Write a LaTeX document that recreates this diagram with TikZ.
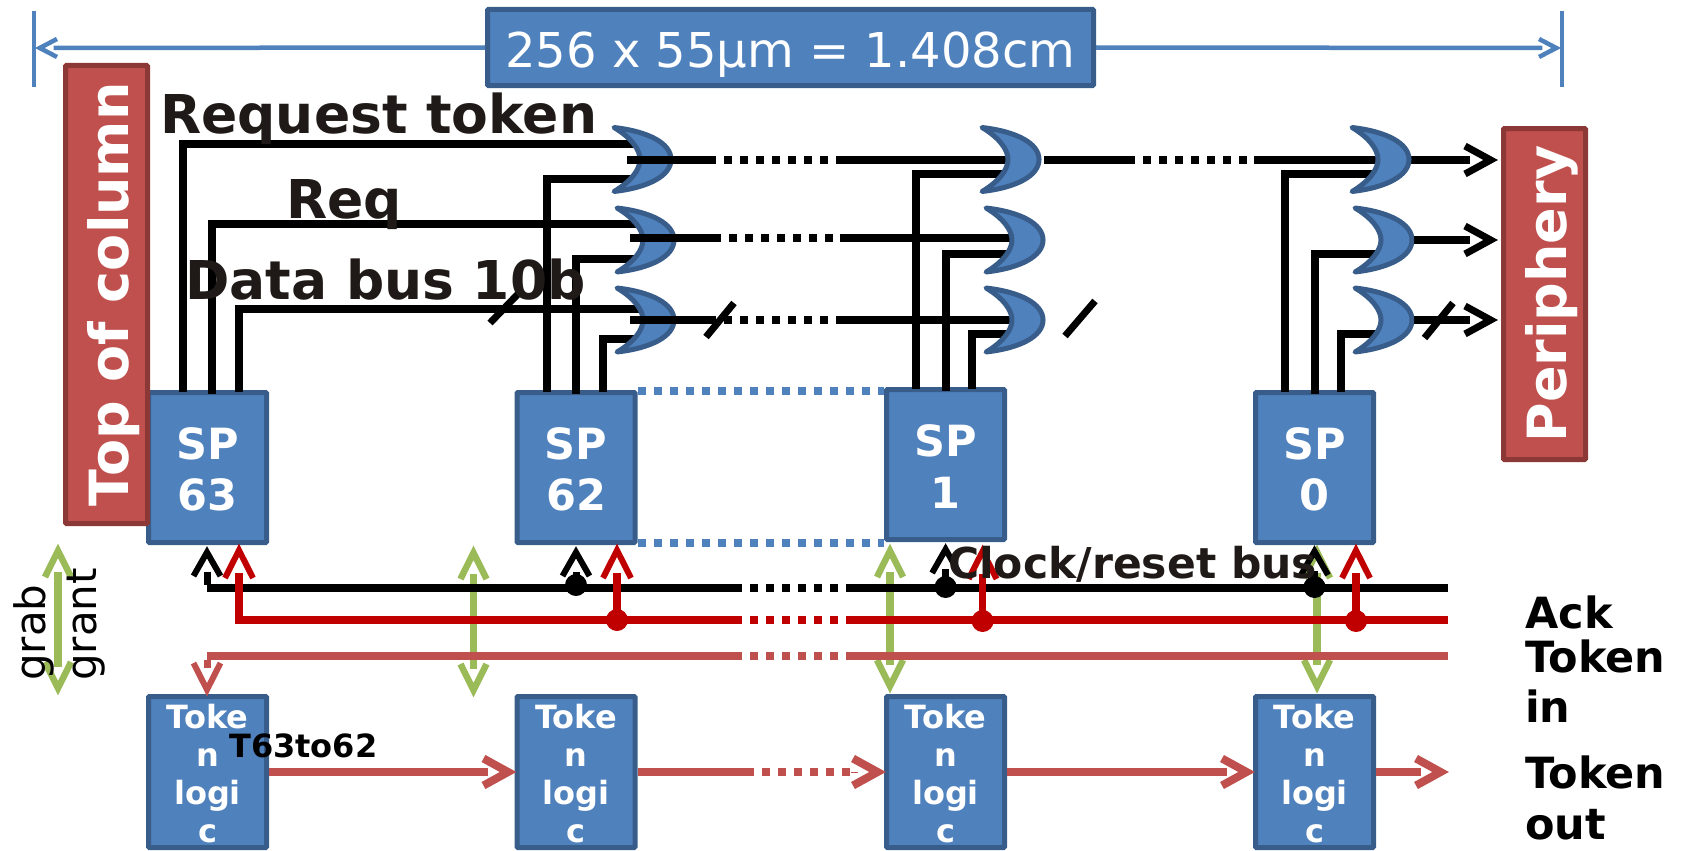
\documentclass[tikz,border=0pt]{standalone}
\usepackage{fontspec}
\setmainfont{DejaVu Sans}
\usetikzlibrary{arrows.meta}
\definecolor{bluef}{HTML}{4F81BD}
\definecolor{blued}{HTML}{385D8A}
\definecolor{redf}{HTML}{C0504D}
\definecolor{redd}{HTML}{8C3836}
\definecolor{wirered}{HTML}{C00000}
\definecolor{greenw}{HTML}{9BBB59}
\definecolor{inkt}{HTML}{1F1A17}
\pgfdeclarearrow{
  name=Chev,
  parameters={\the\pgfarrowlength,\the\pgfarrowwidth,\the\pgfarrowlinewidth},
  defaults={length=33pt,width=33pt,line width=5pt},
  setup code={
    \pgfarrowssettipend{0pt}
    \pgfarrowssetlineend{-0.85\pgfarrowlength}
    \pgfarrowssetvisualbackend{-\pgfarrowlength}
    \pgfarrowssetbackend{-\pgfarrowlength}
    \pgfarrowssavethe\pgfarrowlength
    \pgfarrowssavethe\pgfarrowwidth
    \pgfarrowssavethe\pgfarrowlinewidth
  },
  drawing code={
    \pgfsetdash{}{+0pt}
    \pgfsetbuttcap
    \pgfsetmiterjoin
    \pgfsetmiterlimit{20}
    \pgfsetlinewidth{\pgfarrowlinewidth}
    \pgfpathmoveto{\pgfqpoint{-\pgfarrowlength}{0.5\pgfarrowwidth}}
    \pgfpathlineto{\pgfqpoint{-1.05\pgfarrowlinewidth}{0pt}}
    \pgfpathlineto{\pgfqpoint{-\pgfarrowlength}{-0.5\pgfarrowwidth}}
    \pgfusepathqstroke
  }
}
\tikzset{
  boxbase/.style={rectangle,fill=bluef,draw=blued,line width=5pt,inner sep=0pt,text=white,align=center,rounded corners=1pt},
  spbox/.style={boxbase,minimum width=118pt,minimum height=150pt},
  tokbox/.style={boxbase,minimum width=118pt,minimum height=151pt},
  sptext/.style={inner sep=0pt,text=white,align=center,yshift=-2pt,font=\fontsize{43}{51.5}\selectfont\bfseries},
  toktext/.style={inner sep=0pt,text=white,align=center,yshift=-1.5pt,font=\fontsize{32}{38}\selectfont\bfseries},
  redbox/.style={rectangle,fill=redf,draw=redd,line width=5pt,inner sep=0pt,text=white,rounded corners=1pt,rotate=90,text height=44pt,text depth=0pt,font=\fontsize{54}{60}\selectfont\bfseries},
  toplabel/.style={boxbase,minimum width=606pt,minimum height=76pt,text height=39pt,text depth=0pt,font=\fontsize{48}{56}\selectfont},
  lab/.style={anchor=base west,inner sep=0pt,font=\fontsize{53.5}{60}\selectfont\bfseries,text=inkt},
  sidelab/.style={anchor=base west,inner sep=0pt,font=\fontsize{43}{48}\selectfont\bfseries,text=black},
  rotlab/.style={anchor=base west,inner sep=0pt,rotate=90,font=\fontsize{42}{48}\selectfont,text=black},
  gatest/.style={fill=bluef,draw=blued,line width=5pt,line join=round},
  wire/.style={draw=black,line width=8pt},
  busk/.style={draw=black,line width=8.5pt},
  busr/.style={draw=wirered,line width=8.5pt},
  bust/.style={draw=redf,line width=8.5pt},
  dotted8/.style={dash pattern=on 8pt off 8pt,dash phase=8pt},
  dotted0/.style={dash pattern=on 8pt off 8pt},
  dimline/.style={draw=bluef,line width=4.5pt},
  dimarrow/.style={dimline,-{Chev[length=22pt,width=18pt,line width=4.5pt]}},
  slash/.style={draw=black,line width=7pt},
  outarrow/.style={draw=black,line width=8pt,-{Chev[length=33pt,width=28pt,line width=7pt]}},
  upk/.style={draw=black,line width=7pt,-{Chev[length=30pt,width=27pt,line width=6pt]}},
  upr/.style={draw=wirered,line width=7.5pt,-{Chev[length=34pt,width=28pt,line width=6pt]}},
  tokarrow/.style={draw=redf,line width=8.5pt,-{Chev[length=33pt,width=27pt,line width=8pt]}},
  tokend/.style={draw=redf,line width=0.1pt,-{Chev[length=33pt,width=27pt,line width=8pt]}},
  tokline/.style={draw=redf,line width=8.5pt},
  downt/.style={draw=redf,line width=7pt,-{Chev[length=33pt,width=27pt,line width=6pt]}},
  grn/.style={draw=greenw,line width=7.5pt,{Chev[length=33pt,width=26pt,line width=6.5pt]}-{Chev[length=33pt,width=26pt,line width=6.5pt]}},
  dotk/.style={circle,fill=black,inner sep=0pt,minimum size=22pt},
  dotr/.style={circle,fill=wirered,inner sep=0pt,minimum size=22pt}
}
\newcommand{\orgate}[3]{%
  \coordinate (#1) at (#2,#3);
  \begin{scope}[shift={(#2,#3)}]
    \draw[gatest] (1,-32) .. controls (36,-28) and (58,-16) .. (58,0)
      .. controls (58,16) and (36,28) .. (1,32)
      .. controls (18,22) and (27,10) .. (27,0)
      .. controls (27,-10) and (18,-22) .. (1,-32) -- cycle;
  \end{scope}}
\begin{document}
\begin{tikzpicture}[x=1pt,y=-1pt]
\useasboundingbox (0,0) rectangle (1681,851);

% dimension line
\coordinate (tl1) at (34,11); \coordinate (tl2) at (34,87);
\coordinate (tr1) at (1562,11); \coordinate (tr2) at (1562,87);
\coordinate (tipl) at (35,48); \coordinate (tipr) at (1561,48);
\draw[dimline] (tl1) -- (tl2);
\draw[dimline] (tr1) -- (tr2);
\node[toplabel] (size) at (790.5,47.5) {256 x 55µm = 1.408cm};
\draw[dimarrow] (size.west) -- (tipl);
\draw[dimarrow] (size.east) -- (tipr);

% green arrows
\coordinate (g0t) at (58,544); \coordinate (g0b) at (58,695);
\coordinate (g1t) at (473.5,546); \coordinate (g1b) at (473.5,697);
\coordinate (g2t) at (890,544); \coordinate (g2b) at (890,693);
\coordinate (g3t) at (1317,545); \coordinate (g3b) at (1317,693);
\draw[grn] (g0t) -- (g0b);
\draw[grn] (g1t) -- (g1b);
\draw[grn] (g2t) -- (g2b);
\draw[grn] (g3t) -- (g3b);

% boxes
\node[spbox] (sp63) at (207.5,467.5) {};
\node[spbox] (sp62) at (576,467.5) {};
\node[spbox] (sp1) at (945.5,464.5) {};
\node[spbox] (sp0) at (1314.5,467.5) {};
\node[sptext] (sp63t) at (sp63) {SP\\63};
\node[sptext] (sp62t) at (sp62) {SP\\62};
\node[sptext] (sp1t) at (sp1) {SP\\1};
\node[sptext] (sp0t) at (sp0) {SP\\0};
\node[tokbox] (tk63) at (207.5,772) {};
\node[tokbox] (tk62) at (576,772) {};
\node[tokbox] (tk1) at (945.5,772) {};
\node[tokbox] (tk0) at (1314.5,772) {};
\node[toktext] (tk63t) at (tk63) {Toke\\n\\logi\\c};
\node[toktext] (tk62t) at (tk62) {Toke\\n\\logi\\c};
\node[toktext] (tk1t) at (tk1) {Toke\\n\\logi\\c};
\node[toktext] (tk0t) at (tk0) {Toke\\n\\logi\\c};
\node[redbox,minimum width=458pt,minimum height=82pt] (top) at (106.5,294.5) {Top of column};
\node[redbox,minimum width=331pt,minimum height=82pt] (peri) at (1544.5,294) {Periphery};

% blue dotted links between SP62 and SP1
\coordinate (blu1a) at (638,391); \coordinate (blu1b) at (884,391);
\coordinate (blu2a) at (638,543); \coordinate (blu2b) at (884,543);
\draw[draw=bluef,line width=8.5pt,dotted0] (blu1a) -- (blu1b);
\draw[draw=bluef,line width=8.5pt,dotted0] (blu2a) -- (blu2b);

% input wires
\coordinate (a1s) at (182.7,392); \coordinate (a1e) at (637,144);
\coordinate (a2s) at (212,394);   \coordinate (a2e) at (643,224);
\coordinate (a3s) at (239.4,392); \coordinate (a3e) at (643,309);
\coordinate (b1s) at (547,392);   \coordinate (b1e) at (637,179);
\coordinate (b2s) at (576,394);   \coordinate (b2e) at (641,259);
\coordinate (b3s) at (603,392);   \coordinate (b3e) at (641,339);
\coordinate (c1s) at (916,389);   \coordinate (c1e) at (1003,174);
\coordinate (c2s) at (945.6,391); \coordinate (c2e) at (1008,254);
\coordinate (c3s) at (972.4,389); \coordinate (c3e) at (1008,334);
\coordinate (d1s) at (1285,392);  \coordinate (d1e) at (1372,174);
\coordinate (d2s) at (1314.5,394);\coordinate (d2e) at (1376,254);
\coordinate (d3s) at (1341,392);  \coordinate (d3e) at (1376,334);
\foreach \w in {a1,a2,a3,b1,b2,b3,c1,c2,c3,d1,d2,d3}{
  \draw[wire] (\w s) |- (\w e);
}

% row lines behind the gates of columns 2 and 3
\coordinate (r1c) at (837,160);  \coordinate (r1g2) at (1009,160);
\coordinate (r2a) at (630,238);  \coordinate (r2m) at (713,238);  \coordinate (r2c) at (840,238); \coordinate (r2g2) at (1012,238);
\coordinate (r3a) at (630,320);  \coordinate (r3m) at (716,320);  \coordinate (r3c) at (837,320); \coordinate (r3g2) at (1012,320);
\coordinate (r1d) at (1254,160); \coordinate (endr1) at (1498,160);
\draw[wire] (r1c) -- (r1g2);
\draw[wire] (r2c) -- (r2g2);
\draw[wire] (r3c) -- (r3g2);
\draw[outarrow] (r1d) -- (endr1);

% gates
\orgate{ga1}{613}{159.5} \orgate{ga2}{616}{240} \orgate{ga3}{616}{320}
\orgate{gb1}{981}{159.5} \orgate{gb2}{985}{240} \orgate{gb3}{985}{320}
\orgate{gc1}{1351}{159.5} \orgate{gc2}{1354}{240} \orgate{gc3}{1354}{320}

% output wires
\coordinate (r1a) at (627,160); \coordinate (r1m) at (716,160);
\coordinate (o1a) at (1044,160); \coordinate (o1m) at (1135,160);
\coordinate (o3s) at (1414,240); \coordinate (endr2) at (1498,240);
\coordinate (o4s) at (1414,320); \coordinate (endr3) at (1498,320);
\draw[wire] (r1a) -- (r1m);
\draw[wire,dotted8] (r1m) -- (r1c);
\draw[wire] (r2a) -- (r2m);
\draw[wire,dotted0] (r2m) -- (r2c);
\draw[wire] (r3a) -- (r3m);
\draw[wire,dotted8] (r3m) -- (r3c);
\draw[wire] (o1a) -- (o1m);
\draw[wire,dotted8] (o1m) -- (r1d);
\draw[outarrow] (o3s) -- (endr2);
\draw[outarrow] (o4s) -- (endr3);

% slashes
\coordinate (s1a) at (490,323); \coordinate (s1b) at (518,294);
\coordinate (s2a) at (706,337); \coordinate (s2b) at (734,303);
\coordinate (s3a) at (1065,336); \coordinate (s3b) at (1095,301);
\coordinate (s4a) at (1424.5,338); \coordinate (s4b) at (1453,303);
\draw[slash] (s1a) -- (s1b);
\draw[slash] (s2a) -- (s2b);
\draw[slash] (s3a) -- (s3b);
\draw[slash] (s4a) -- (s4b);

% buses
\coordinate (ks) at (207,588); \coordinate (km) at (742,588); \coordinate (kn) at (846,588); \coordinate (ke) at (1447.5,588);
\coordinate (rs) at (239,620); \coordinate (rm) at (742,620); \coordinate (rn) at (846,620); \coordinate (re) at (1447.5,620);
\coordinate (ts) at (207,656); \coordinate (tm) at (742,656); \coordinate (tn) at (846,656); \coordinate (te) at (1447.5,656);
\draw[busk] (ks) -- (km);
\draw[busk,dotted8] (km) -- (kn);
\draw[busk] (kn) -- (ke);
\draw[busr] (rs) -- (rm);
\draw[busr,dotted8] (rm) -- (rn);
\draw[busr] (rn) -- (re);
\draw[bust] (ts) -- (tm);
\draw[bust,dotted8] (tm) -- (tn);
\draw[bust] (tn) -- (te);

% taps
\node[dotk] (dk62) at (576,585) {};
\node[dotk] (dk1) at (945.6,587) {};
\node[dotk] (dk0) at (1314.5,587) {};
\node[dotr] (dr62) at (617,620) {};
\node[dotr] (dr1) at (982.6,621) {};
\node[dotr] (dr0) at (1356,621) {};
\coordinate (k63t) at (207,546); \coordinate (k62t) at (576,546);
\coordinate (k1t) at (945.6,543); \coordinate (k0t) at (1314.5,545);
\coordinate (r63c) at (239,624); \coordinate (r63t) at (239,544); \coordinate (r62t) at (617,544);
\coordinate (r1t) at (982.6,545); \coordinate (r0t) at (1356,544);
\coordinate (k63c) at (207,585);
\draw[upk] (k63c) -- (k63t);
\draw[upk] (dk62.center) -- (k62t);
\draw[upk] (dk1.center) -- (k1t);
\draw[upk] (dk0.center) -- (k0t);
\draw[upr] (r63c) -- (r63t);
\draw[upr] (dr62.center) -- (r62t);
\draw[upr] (dr1.center) -- (r1t);
\draw[upr] (dr0.center) -- (r0t);
\coordinate (t63c) at (207,660); \coordinate (t63t) at (207,696);
\draw[downt] (t63c) -- (t63t);

% token arrows
\coordinate (q2m) at (754,772); \coordinate (q2n) at (851,772);
\coordinate (qend) at (1449,772);
\draw[tokarrow] (tk63.east) -- ([xshift=2pt]tk62.west);
\draw[tokline] (tk62.east) -- (q2m);
\draw[tokline,dotted8] (q2m) -- (q2n);
\draw[tokend] (q2n) -- ([xshift=2pt]tk1.west);
\draw[tokarrow] (tk1.east) -- ([xshift=2pt]tk0.west);
\draw[tokarrow] (tk0.east) -- (qend);

% labels
\node[lab] (lreq) at (160,133) {Request token};
\node[lab] (lr) at (286,218) {Req};
\node[lab] (ldb) at (185,299) {Data bus 10b};
\node[lab,font=\fontsize{42.5}{48}\selectfont\bfseries] (lclk) at (948,578) {Clock/reset bus};
\node[sidelab,font=\fontsize{32}{36}\selectfont\bfseries] (lt) at (229,757) {T63to62};
\node[sidelab] (lack) at (1525,628) {Ack};
\node[sidelab] (ltk1) at (1525,672) {Token};
\node[sidelab] (lin) at (1525,722) {in};
\node[sidelab] (ltk2) at (1525,788) {Token};
\node[sidelab] (lout) at (1525,839) {out};
\node[rotlab] (lgrab) at (45.5,681) {grab};
\node[rotlab] (lgrant) at (96,681) {grant};
\end{tikzpicture}
\end{document}
